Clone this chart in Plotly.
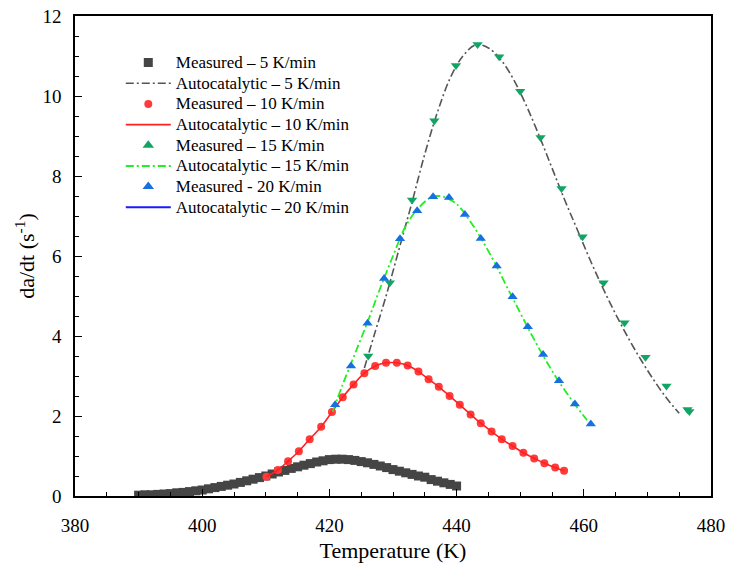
import plotly.graph_objects as go

# Measured 5 K/min (gray squares)
m5_x = list(range(390, 441))
m5_y = [0.02, 0.03, 0.03, 0.04, 0.05, 0.06, 0.08, 0.09, 0.11, 0.13,
        0.15, 0.18, 0.21, 0.24, 0.27, 0.30, 0.34, 0.38, 0.42, 0.46,
        0.50, 0.55, 0.60, 0.64, 0.69, 0.73, 0.77, 0.81, 0.85, 0.88,
        0.91, 0.92, 0.92, 0.91, 0.89, 0.86, 0.83, 0.79, 0.75, 0.71,
        0.66, 0.62, 0.58, 0.54, 0.50, 0.47, 0.41, 0.37, 0.33, 0.29, 0.25]

# Autocatalytic 5 K/min (gray dash-dot)
a5_x = [425.5, 427, 429, 431, 433, 435, 437, 439, 441, 443, 445, 447, 449,
        451, 453, 455, 457, 459, 461, 463, 465, 467, 469, 471, 473, 475]
a5_y = [3.2, 4.0, 5.05, 6.2, 7.35, 8.55, 9.6, 10.45, 11.0, 11.28, 11.2, 10.9,
        10.4, 9.75, 9.0, 8.2, 7.4, 6.65, 5.9, 5.2, 4.55, 3.95, 3.4, 2.9, 2.45, 2.07]

# Measured 10 K/min (red circles) and Autocatalytic 10 K/min (red line)
m10_x = [410.1, 411.9, 413.5, 415.2, 416.9, 418.7, 420.4, 422.1, 423.8, 425.5,
         427.2, 428.9, 430.6, 432.3, 434.0, 435.6, 437.2, 438.9, 440.5, 442.2,
         443.8, 445.5, 447.1, 448.8, 450.5, 452.2, 453.8, 455.5, 456.9]
m10_y = [0.48, 0.65, 0.87, 1.12, 1.42, 1.73, 2.10, 2.47, 2.79, 3.07,
         3.25, 3.33, 3.33, 3.26, 3.11, 2.92, 2.73, 2.50, 2.28, 2.04,
         1.82, 1.61, 1.42, 1.25, 1.08, 0.94, 0.82, 0.71, 0.63]

# Measured 15 K/min (green down triangles)
m15_x = [426.1, 429.5, 433.0, 436.5, 439.9, 443.3, 446.7, 450.0, 453.2,
         456.5, 459.8, 463.1, 466.4, 469.7, 473.0, 476.3, 476.6]
m15_y = [3.5, 5.33, 7.4, 9.38, 10.76, 11.29, 10.98, 10.12, 8.96,
         7.69, 6.48, 5.33, 4.33, 3.47, 2.75, 2.16, 2.11]

# Autocatalytic 15 K/min (green dash-dot)
a15_x = [420.5, 422, 424, 426, 428, 430, 432, 434, 436, 437, 438, 440, 442,
         444, 446, 448, 450, 452, 454, 456, 458, 460, 461]
a15_y = [2.1, 2.75, 3.55, 4.35, 5.2, 6.0, 6.75, 7.2, 7.47, 7.5, 7.48, 7.3, 6.9,
         6.4, 5.83, 5.2, 4.58, 3.97, 3.4, 2.88, 2.42, 2.0, 1.8]

# Measured 20 K/min (blue up triangles)
m20_x = [420.9, 423.4, 426.0, 428.6, 431.1, 433.8, 436.3, 438.8, 441.3,
         443.8, 446.3, 448.8, 451.2, 453.6, 456.1, 458.6, 461.1]
m20_y = [2.28, 3.25, 4.32, 5.44, 6.43, 7.13, 7.48, 7.46, 7.04,
         6.44, 5.75, 4.98, 4.23, 3.54, 2.88, 2.30, 1.80]

FONT = "'Times New Roman', 'Liberation Serif', 'DejaVu Serif', serif"


def lg(name):
    return '<span style="font-size:17px">' + name + '</span>'


fig = go.Figure()

fig.add_trace(go.Scatter(x=m5_x, y=m5_y, mode="markers", name=lg("Measured – 5 K/min"),
                         marker=dict(symbol="square", size=9, color="#454545")))
fig.add_trace(go.Scatter(x=a5_x, y=a5_y, mode="lines", name=lg("Autocatalytic – 5 K/min"),
                         line=dict(color="#555555", width=1.6, dash="8px,3px,2px,3px", shape="spline")))
fig.add_trace(go.Scatter(x=m10_x, y=m10_y, mode="markers", name=lg("Measured – 10 K/min"),
                         marker=dict(symbol="circle", size=8, color="#ff3b3b")))
fig.add_trace(go.Scatter(x=m10_x, y=m10_y, mode="lines", name=lg("Autocatalytic – 10 K/min"),
                         line=dict(color="#ff2020", width=1.6, shape="spline")))
fig.add_trace(go.Scatter(x=m15_x, y=m15_y, mode="markers", name="m15",
                         marker=dict(symbol="triangle-down", size=9, color="#12a463"),
                         showlegend=False))
fig.add_trace(go.Scatter(x=a15_x, y=a15_y, mode="lines", name="a15",
                         line=dict(color="#22ee22", width=1.8, dash="8px,3px,2px,3px", shape="spline"),
                         showlegend=False))
fig.add_trace(go.Scatter(x=m20_x, y=m20_y, mode="markers", name="m20",
                         marker=dict(symbol="triangle-up", size=9, color="#1670e0"),
                         showlegend=False))

# legend-only entries (order preserved)
fig.add_trace(go.Scatter(x=[None], y=[None], mode="markers", name=lg("Measured – 15 K/min"),
                         marker=dict(symbol="triangle-up", size=10, color="#12a463")))
fig.add_trace(go.Scatter(x=[None], y=[None], mode="lines", name=lg("Autocatalytic – 15 K/min"),
                         line=dict(color="#22ee22", width=2, dash="8px,3px,2px,3px")))
fig.add_trace(go.Scatter(x=[None], y=[None], mode="markers", name=lg("Measured - 20 K/min"),
                         marker=dict(symbol="triangle-up", size=10, color="#1670e0")))
fig.add_trace(go.Scatter(x=[None], y=[None], mode="lines", name=lg("Autocatalytic – 20 K/min"),
                         line=dict(color="#1a1aff", width=2)))

axis_common = dict(showline=True, linecolor="black", linewidth=1.5, mirror=True,
                   ticks="inside", ticklen=7, tickwidth=1.3, tickcolor="black",
                   showgrid=False, zeroline=False, automargin=False,
                   ticklabeloverflow="allow",
                   tickfont=dict(family=FONT, size=19, color="black"),
                   minor=dict(ticks="inside", ticklen=4, tickwidth=1.2, tickcolor="black"))

fig.update_xaxes(range=[380, 480], dtick=20, tick0=380, ticklabelstandoff=11,
                 title=dict(text="Temperature (K)", font=dict(family=FONT, size=22, color="black"), standoff=8),
                 **axis_common)
fig.update_yaxes(range=[0, 12], dtick=2, tick0=0, ticklabelstandoff=8,
                 title=dict(text="da/dt (s<sup>-1</sup>)", font=dict(family=FONT, size=22, color="black"), standoff=2),
                 **axis_common)

fig.update_layout(width=732, height=568, plot_bgcolor="white", paper_bgcolor="white",
                  margin=dict(l=75, r=21, t=16, b=72),
                  showlegend=True,
                  legend=dict(x=0.072, y=0.935, xanchor="left", yanchor="top",
                              bgcolor="rgba(0,0,0,0)", itemwidth=45,
                              font=dict(family=FONT, size=13.6, color="black"),
                              tracegroupgap=0))

# remove the page's default body margin so the figure fills the window exactly
fig.write_html("out.html",
               config={"displayModeBar": False},
               post_script="document.body.style.margin='0px';document.body.style.overflow='hidden';")
